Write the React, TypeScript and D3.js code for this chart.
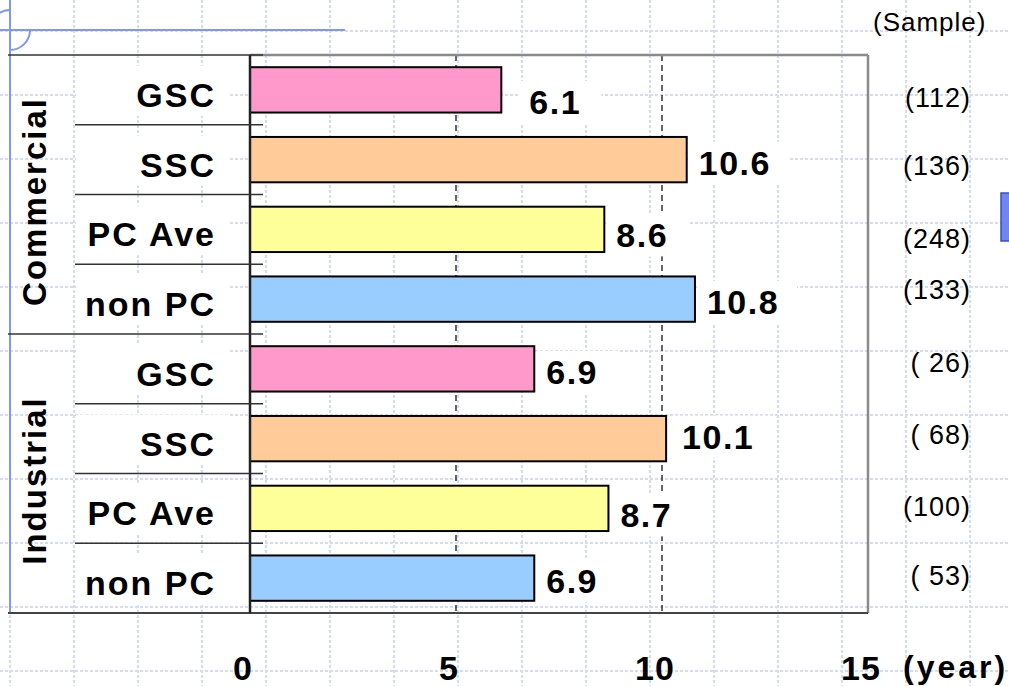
import React from "react";
import * as d3 from "d3";

// ---- data ----
const categories = ["GSC", "SSC", "PC Ave", "non PC", "GSC", "SSC", "PC Ave", "non PC"];
const groups = ["Commercial", "Industrial"];
const groupSizes = [4, 4];
const values = [6.1, 10.6, 8.6, 10.8, 6.9, 10.1, 8.7, 6.9];
const samples = ["(112)", "(136)", "(248)", "(133)", "( 26)", "( 68)", "(100)", "( 53)"];
const xTicks = [0, 5, 10, 15];
const dashedTicks = [5, 10];

// ---- styles / layout ----
const colorOf: Record<string, string> = {
  GSC: "#ff99cc",
  SSC: "#ffcc99",
  "PC Ave": "#ffff99",
  "non PC": "#99ccff",
};
const W = 1009;
const H = 686;
const L = 250, R = 868, T = 55, B = 613;
const FONT = "'Liberation Sans', Arial, 'Noto Sans CJK JP', sans-serif";
const labelNudge: Record<number, [number, number]> = { 0: [16, 9], 5: [4, -5], 2: [0, 3], 6: [0, 4] };
const sampleNudge = [7, 5, 9, -10, -7, -5, -2, -3];
const GRID = "#d3dcf7";

export default function App() {
  const x = d3.scaleLinear().domain([0, 15]).range([L, R]);
  const y = d3.scaleBand<number>().domain(d3.range(categories.length)).range([T, B]).paddingInner(0.35).paddingOuter(0.175);
  const step = y.step();
  const bandTop = (i: number) => T + i * step;
  const center = (i: number) => (y(i) as number) + y.bandwidth() / 2;

  const gridXs = d3.range(10, W, 64);
  const gridYs = d3.range(31, H, 64);

  // group boundaries
  let acc = 0;
  const groupInfo = groups.map((g, gi) => {
    const start = acc;
    acc += groupSizes[gi];
    return { name: g, y0: bandTop(start), y1: bandTop(acc) };
  });
  const groupStarts = new Set(groupInfo.map((g) => g.y0).concat([B]));

  const arc = d3.arc();
  const arcTL = arc({ innerRadius: 20, outerRadius: 20, startAngle: -Math.PI / 2, endAngle: 0 } as any) as string;
  const arcBR = arc({ innerRadius: 20, outerRadius: 20, startAngle: Math.PI / 2, endAngle: Math.PI } as any) as string;

  return (
    <svg width={W} height={H} style={{ position: "absolute", left: 0, top: 0, background: "#fff" }} fontFamily={FONT}>
      {/* background slide grid */}
      <g stroke={GRID} strokeWidth={2} strokeDasharray="3,2">
        {gridXs.map((gx) => (
          <line key={"gx" + gx} x1={gx} x2={gx} y1={0} y2={H} />
        ))}
        {gridYs.map((gy) => (
          <line key={"gy" + gy} x1={0} x2={W} y1={gy} y2={gy} />
        ))}
      </g>

      {/* slide decoration */}
      <g stroke="#7f98f0" strokeWidth={2} fill="none">
        <line x1={0} x2={345} y1={30} y2={30} />
        <line x1={10} x2={10} y1={0} y2={B} />
        <path d={arcTL} transform="translate(10,30)" />
        <path d={arcBR} transform="translate(10,30)" />
      </g>
      <rect x={1001} y={193} width={12} height={48} fill="#6f86ee" stroke="#3c50b8" strokeWidth={1.5} />

      {/* white boxes behind category labels */}
      {categories.map((c, i) => (
        <rect key={"cb" + i} x={76} y={center(i) - 24} width={152} height={50} fill="#fff" />
      ))}

      {/* dashed gridlines */}
      {dashedTicks.map((t) => (
        <line key={"d" + t} x1={x(t)} x2={x(t)} y1={T} y2={B} stroke="#000" strokeWidth={1.2} strokeDasharray="6,4" />
      ))}

      {/* bars */}
      {values.map((v, i) => (
        <rect key={"b" + i} x={x(0)} y={y(i) as number} width={x(v) - x(0)} height={y.bandwidth()} fill={colorOf[categories[i]]} stroke="#000" strokeWidth={2} />
      ))}

      {/* value labels */}
      {values.map((v, i) => {
        const [dx, dy] = labelNudge[i] || [0, 0];
        const lx = x(v) + 12 + dx;
        const by = center(i) + 15 + dy;
        const label = v.toFixed(1);
        const wdt = label.length * 18 + 6;
        return (
          <g key={"v" + i}>
            <rect x={lx - 10} y={by - 33} width={wdt + 22} height={42} fill="#fff" />
            <text x={lx} y={by} fontSize={34} fontWeight="bold" letterSpacing={1.5} fill="#000">
              {label}
            </text>
          </g>
        );
      })}

      {/* plot border */}
      <g fill="none">
        <line x1={L} x2={R} y1={T} y2={T} stroke="#8a8a8a" strokeWidth={2.5} />
        <line x1={R} x2={R} y1={T} y2={B} stroke="#8a8a8a" strokeWidth={2.5} />
        <line x1={8} x2={R} y1={B} y2={B} stroke="#444" strokeWidth={2} />
        <line x1={L} x2={L} y1={T} y2={B} stroke="#222" strokeWidth={2.5} />
      </g>

      {/* category separators */}
      {d3.range(categories.length).map((i) => {
        const yy = bandTop(i);
        const isGroup = groupStarts.has(yy);
        return <line key={"s" + i} x1={isGroup ? 8 : 75} x2={263} y1={yy} y2={yy} stroke="#333" strokeWidth={1.5} />;
      })}

      {/* category labels */}
      {categories.map((c, i) => (
        <text key={"c" + i} x={216} y={center(i) + 17} textAnchor="end" fontSize={34} fontWeight="bold" letterSpacing={2} fill="#000">
          {c}
        </text>
      ))}

      {/* group labels */}
      {groupInfo.map((g, gi) => (
        <text
          key={"g" + gi}
          transform={`translate(46,${(g.y0 + g.y1) / 2 + 7}) rotate(-90)`}
          textAnchor="middle"
          fontSize={33}
          fontWeight="bold"
          letterSpacing={2}
          fill="#000"
        >
          {g.name}
        </text>
      ))}

      {/* x axis tick labels */}
      {xTicks.map((t) => (
        <text key={"t" + t} x={x(t) - 7} y={680} textAnchor="middle" fontSize={34} fontWeight="bold" letterSpacing={1} fill="#000">
          {t}
        </text>
      ))}
      <text x={903} y={678} fontSize={32} fontWeight="bold" letterSpacing={3} fill="#000">
        (year)
      </text>

      {/* sample sizes */}
      <text x={873} y={31} fontSize={26} letterSpacing={1} fill="#000">
        (Sample)
      </text>
      {samples.map((s, i) => (
        <text key={"n" + i} x={971} y={center(i) + 10 + sampleNudge[i]} textAnchor="end" fontSize={27} letterSpacing={1} fill="#000" style={{ whiteSpace: "pre" }}>
          {s}
        </text>
      ))}
    </svg>
  );
}
